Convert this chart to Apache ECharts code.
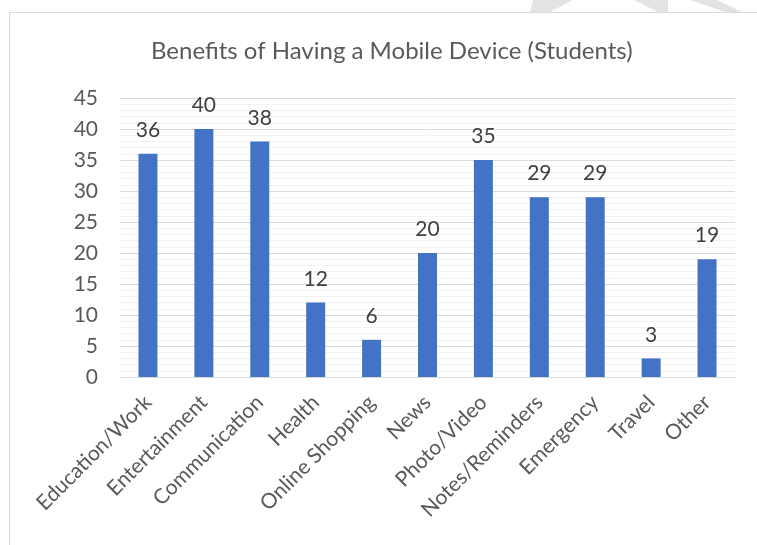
<!DOCTYPE html>
<html>
<head>
<meta charset="utf-8">
<script src="https://cdn.jsdelivr.net/npm/echarts@6/dist/echarts.min.js"></script>
<style>
html,body{margin:0;padding:0;background:#fff;}
#chart{width:757px;height:545px;}
</style>
</head>
<body>
<div id="chart"></div>
<script>
const categories = ["Education/Work","Entertainment","Communication","Health","Online Shopping","News","Photo/Video","Notes/Reminders","Emergency","Travel","Other"];
const values = [36,40,38,12,6,20,35,29,29,3,19];
const titleText = "Benefits of Having a Mobile Device (Students)";

const FONT = "Lato, 'Open Sans', sans-serif";
const chart = echarts.init(document.getElementById('chart'), null, {renderer:'canvas'});
chart.setOption({
  backgroundColor:'#fff',
  animation:false,
  title:{
    text:titleText,
    left:146,
    top:34,
    textStyle:{fontFamily:FONT,fontSize:24,fontWeight:'normal',color:'#595959'}
  },
  graphic:[
    {type:'rect',shape:{x:9.5,y:12.5,width:800,height:600},style:{fill:'none',stroke:'#D9D9D9',lineWidth:1},silent:true,z:-1},
    {type:'polygon',shape:{points:[[533,0],[573,0],[550,12],[530,12]]},style:{fill:'#E3E3E3'},silent:true},
    {type:'polygon',shape:{points:[[634,0],[668,0],[668,12],[658,12]]},style:{fill:'#E3E3E3'},silent:true},
    {type:'polygon',shape:{points:[[690,0],[717,0],[742,12],[725,12]]},style:{fill:'#E3E3E3'},silent:true}
  ],
  grid:{left:120,right:22,top:98,bottom:168,containLabel:false},
  xAxis:{
    type:'category',
    data:categories,
    axisLine:{lineStyle:{color:'#D9D9D9',width:1}},
    axisTick:{show:false},
    axisLabel:{rotate:45,interval:0,margin:22,fontFamily:FONT,fontSize:21,color:'#595959'}
  },
  yAxis:{
    type:'value',
    min:0,max:45,interval:5,
    axisLine:{show:false},
    axisTick:{show:false},
    axisLabel:{margin:22,fontFamily:FONT,fontSize:21,color:'#595959'},
    splitLine:{lineStyle:{color:'#D9D9D9',width:1}},
    minorTick:{show:false,splitNumber:5},
    minorSplitLine:{show:true,lineStyle:{color:'#F2F2F2',width:1}}
  },
  series:[{
    type:'bar',
    data:values,
    barWidth:19,
    itemStyle:{color:'#4472C4'},
    label:{show:true,position:'top',distance:13,fontFamily:FONT,fontSize:21,color:'#404040'}
  }]
});
</script>
</body>
</html>
